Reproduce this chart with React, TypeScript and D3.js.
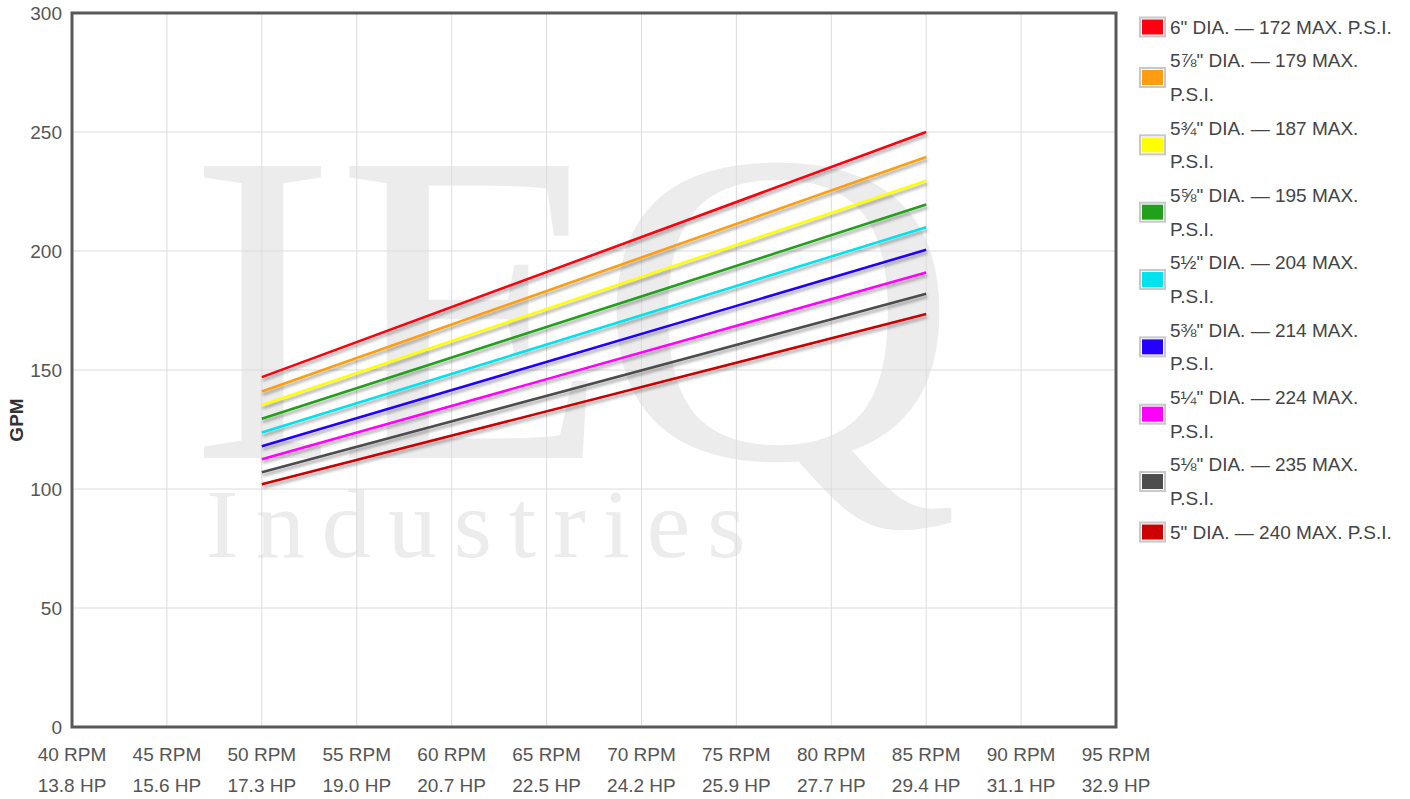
import React from 'react';
import * as d3 from 'd3';

const rpmTicks = [40, 45, 50, 55, 60, 65, 70, 75, 80, 85, 90, 95];
const hpLabels = ['13.8', '15.6', '17.3', '19.0', '20.7', '22.5', '24.2', '25.9', '27.7', '29.4', '31.1', '32.9'];
const gpmTicks = [0, 50, 100, 150, 200, 250, 300];

// each series is measured at 50 and 85 RPM
const seriesRpm = [50, 85];

const seriesNames = [
  '6" DIA. — 172 MAX. P.S.I.',
  '5⅞" DIA. — 179 MAX. P.S.I.',
  '5¾" DIA. — 187 MAX. P.S.I.',
  '5⅝" DIA. — 195 MAX. P.S.I.',
  '5½" DIA. — 204 MAX. P.S.I.',
  '5⅜" DIA. — 214 MAX. P.S.I.',
  '5¼" DIA. — 224 MAX. P.S.I.',
  '5⅛" DIA. — 235 MAX. P.S.I.',
  '5" DIA. — 240 MAX. P.S.I.',
];
const seriesColors = ['#ff0010', '#ff9d10', '#ffff00', '#21a01b', '#00e3ef', '#2300ff', '#ff00ff', '#4d4d4d', '#cc0000'];
const seriesGpm = [
  [147, 250],
  [141, 239.5],
  [135.3, 229.5],
  [129.5, 219.5],
  [123.7, 210],
  [118, 200.5],
  [112.5, 191],
  [107, 182],
  [102, 173.5],
];

const FONT = "'Liberation Sans', Arial, Helvetica, sans-serif";
const FS = 19;

function wrapLabel(label: string, maxW: number): string[] {
  const ctx = document.createElement('canvas').getContext('2d');
  if (!ctx) return [label];
  ctx.font = `${FS}px ${FONT}`;
  const words = label.split(' ');
  const lines: string[] = [];
  let cur = '';
  for (const w of words) {
    const t = cur ? cur + ' ' + w : w;
    if (ctx.measureText(t).width > maxW && cur) {
      lines.push(cur);
      cur = w;
    } else cur = t;
  }
  if (cur) lines.push(cur);
  return lines;
}

export default function App() {
  const x = d3.scaleLinear().domain([40, 95]).range([72, 1116]);
  const y = d3.scaleLinear().domain([0, 300]).range([727, 13]);
  const line = d3.line<[number, number]>().x(d => x(d[0])).y(d => y(d[1]));

  const legendLines = seriesNames.map(n => wrapLabel(n, 234));
  const pitch = 33.67;
  let row = 0;
  const legend = legendLines.map((lines, i) => {
    const startRow = row;
    row += lines.length;
    const cy = 27 + pitch * (startRow + (lines.length - 1) / 2);
    return { lines, startRow, cy, color: seriesColors[i] };
  });

  return (
    <svg width={1410} height={799} style={{ position: 'absolute', left: 0, top: 0, background: '#fff' }}>
      <defs>
        <filter id="shadow" x="-5%" y="-20%" width="110%" height="140%">
          <feDropShadow dx="1" dy="3" stdDeviation="1.6" floodColor="#000" floodOpacity="0.35" />
        </filter>
      </defs>

      {/* watermark */}
      <g fill="#ececec" fontFamily="'Liberation Serif', 'Times New Roman', serif">
        <text x={188} y={458} fontSize={446}>IE</text>
        <text transform="translate(596,458) scale(1.13,1)" fontSize={446}>Q</text>
        <text x={206} y={557} fontSize={98} letterSpacing={17}>Industries</text>
      </g>

      {/* grid */}
      <g stroke="#dcdcdc" strokeWidth={1}>
        {rpmTicks.map(t => (
          <line key={'v' + t} x1={x(t)} x2={x(t)} y1={y(300)} y2={y(0)} />
        ))}
        {gpmTicks.map(t => (
          <line key={'h' + t} x1={x(40)} x2={x(95)} y1={y(t)} y2={y(t)} />
        ))}
      </g>

      {/* series */}
      <g fill="none" strokeWidth={2.6} filter="url(#shadow)">
        {seriesGpm.map((vals, i) => (
          <path
            key={i}
            d={line(seriesRpm.map((r, j) => [r, vals[j]] as [number, number])) || ''}
            stroke={seriesColors[i]}
          />
        ))}
      </g>

      {/* frame */}
      <rect x={x(40)} y={y(300)} width={x(95) - x(40)} height={y(0) - y(300)} fill="none" stroke="#585858" strokeWidth={3} />

      {/* y axis */}
      <g fontFamily={FONT} fontSize={FS} fill="#555" textAnchor="end">
        {gpmTicks.map(t => (
          <text key={t} x={62} y={y(t)} dy="0.35em">{t}</text>
        ))}
      </g>
      <text
        transform={`translate(23,${y(150) + 50}) rotate(-90)`}
        textAnchor="middle"
        fontFamily={FONT}
        fontSize={19}
        fontWeight="bold"
        fill="#333"
      >
        GPM
      </text>

      {/* x axis */}
      <g fontFamily={FONT} fontSize={FS} fill="#555" textAnchor="middle">
        {rpmTicks.map((t, i) => (
          <g key={t}>
            <text x={x(t)} y={761}>{t} RPM</text>
            <text x={x(t)} y={792}>{hpLabels[i]} HP</text>
          </g>
        ))}
      </g>

      {/* legend */}
      <g fontFamily={FONT} fontSize={FS} fill="#444">
        {legend.map((l, i) => (
          <g key={i}>
            <rect x={1140} y={l.cy - 9.5} width={25} height={19} fill="#fff" stroke="#c8c8c8" strokeWidth={2} />
            <rect x={1142} y={l.cy - 7.5} width={21} height={15} fill={l.color} />
            {l.lines.map((t, k) => (
              <text key={k} x={1170} y={27 + pitch * (l.startRow + k)} dy="0.35em">{t}</text>
            ))}
          </g>
        ))}
      </g>
    </svg>
  );
}
